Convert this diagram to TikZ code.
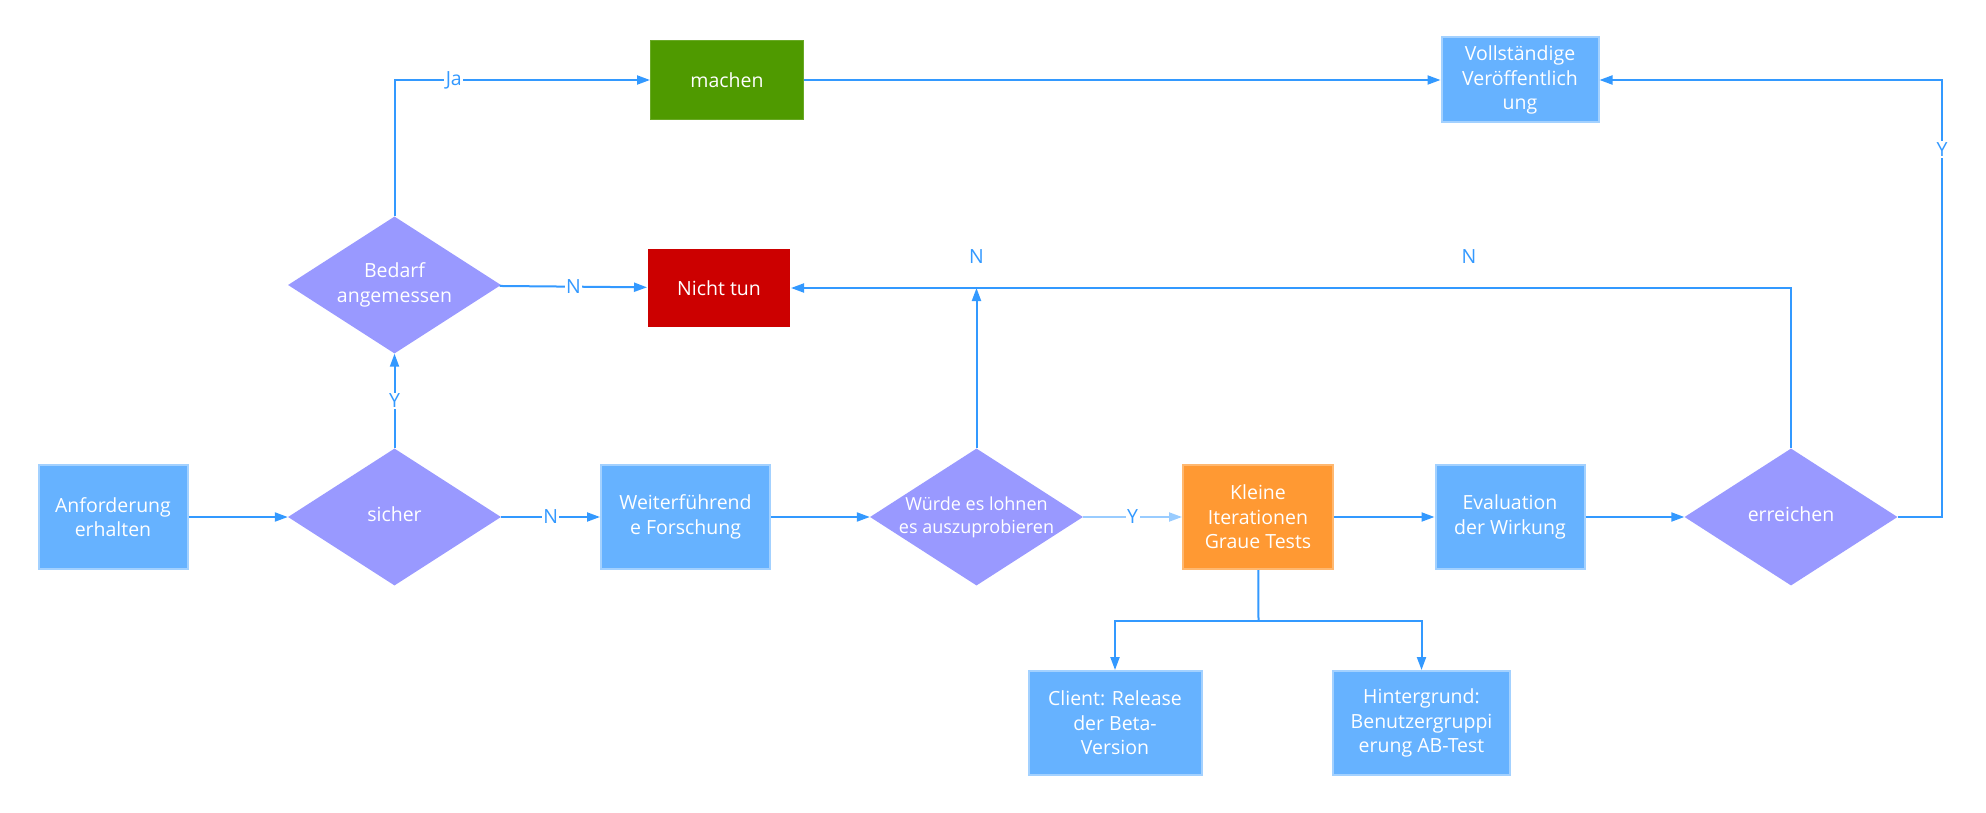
\documentclass[tikz,border=0pt]{standalone}
\usepackage{fontspec}
\setmainfont{Open Sans}
\usepackage{xcolor}
\usepackage{tikz}
\usetikzlibrary{arrows.meta, shapes.geometric}

\definecolor{boxblue}{HTML}{66B2FF}
\definecolor{boxedge}{HTML}{A3D1FF}
\definecolor{rhomb}{HTML}{9999FF}
\definecolor{orangebox}{HTML}{FF9933}
\definecolor{orangeedge}{HTML}{FFB870}
\definecolor{greenbox}{HTML}{4F9A00}
\definecolor{redbox}{HTML}{CC0000}
\definecolor{linkblue}{HTML}{3399FF}
\definecolor{linklight}{HTML}{99CCFF}

\newcommand{\rhombtext}[1]{\makebox[0pt]{\begin{tabular}{@{}c@{}}#1\end{tabular}}}

\begin{document}
\begin{tikzpicture}[x=1pt, y=-1pt,
  every node/.style={font=\fontsize{19.5}{24.5}\selectfont, text=white},
  box/.style={rectangle, fill=boxblue, draw=boxedge, line width=2pt, align=center, inner sep=0pt},
  dec/.style={diamond, fill=rhomb, inner sep=0pt, minimum width=213pt, minimum height=137pt},
  link/.style={draw=linkblue, line width=2pt, -{Triangle[length=13pt,width=9pt]}},
  lbl/.style={text=linkblue, fill=white, inner sep=1.5pt}]
\fill[white] (0,0) rectangle (1986,813);

\node[box, minimum width=149pt, minimum height=104pt] (anf) at (113,517) {Anforderung\\erhalten};
\node[dec] (sicher) at (394.5,517) {\rhombtext{sicher}};
\node[box, minimum width=169pt, minimum height=104pt] (weiter) at (685.5,517) {Weiterführend\\e Forschung};
\node[dec, font=\fontsize{18}{23}\selectfont] (wuerde) at (976.5,517) {\rhombtext{Würde es lohnen\\es auszuprobieren}};
\node[box, fill=orangebox, draw=orangeedge, minimum width=150pt, minimum height=104pt] (kleine) at (1258,517) {Kleine\\Iterationen\\Graue Tests};
\node[box, minimum width=149pt, minimum height=104pt] (eval) at (1510,517) {Evaluation\\der Wirkung};
\node[dec] (erreich) at (1791,517) {\rhombtext{erreichen}};
\node[dec] (bedarf) at (394.5,285) {\rhombtext{Bedarf\\angemessen}};
\node[box, fill=greenbox, draw=greenbox!85!white, line width=1pt, minimum width=153pt, minimum height=79pt] (machen) at (727,80) {machen};
\node[box, fill=redbox, draw=none, minimum width=142pt, minimum height=78pt] (nicht) at (719,288) {Nicht tun};
\node[box, minimum width=157pt, minimum height=85pt] (voll) at (1520,80) {Vollständige\\Veröffentlich\\ung};
\node[box, minimum width=173pt, minimum height=104pt] (client) at (1115,723) {Client: Release\\der Beta-\\Version};
\node[box, minimum width=177pt, minimum height=104pt] (hinter) at (1421.5,723) {Hintergrund:\\Benutzergruppi\\erung AB-Test};

\coordinate (njoin) at (976.5,288);
\coordinate (rjog) at (1942,517);
\coordinate (split) at (1258.5,621);

\draw[link] (anf) -- (sicher);
\draw[link] (sicher) -- node[lbl] {N} (weiter);
\draw[link] (sicher) -- node[lbl] {Y} (bedarf);
\draw[link] (bedarf) |- node[lbl, pos=0.616] {Ja} (machen);
\draw[link] (bedarf) -- node[lbl] {N} (nicht);
\draw[link] (machen) -- (voll);
\draw[link] (weiter) -- (wuerde);
\draw[link, draw=linklight] (wuerde) -- node[lbl] {Y} (kleine);
\draw[link] (kleine) -- (eval);
\draw[link] (eval) -- (erreich);
\draw[link] (wuerde) -- (njoin) node[lbl, fill=none, pos=1, yshift=31pt] {N};
\draw[link] (erreich) |- node[lbl, fill=none, pos=0.661, yshift=31pt] {N} (nicht);
\draw[link] (erreich) -- (rjog) |- node[lbl, pos=0.42] {Y} (voll);
\draw[draw=linkblue, line width=2pt] (kleine) -- (split);
\draw[link] (split) -| (client);
\draw[link] (split) -| (hinter);
\end{tikzpicture}
\end{document}
